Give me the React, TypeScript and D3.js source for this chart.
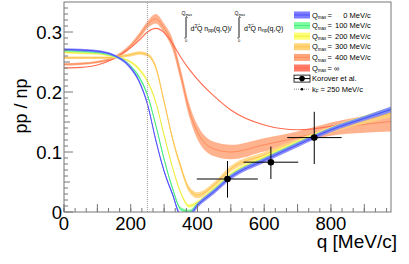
import React from 'react';
import * as d3 from 'd3';

// q grid (MeV/c) shared by all calculated curves
const qGrid = [0, 50, 100, 150, 200, 225, 250, 275, 300, 325, 350, 375, 400, 450, 500, 600, 700, 800, 900, 980];

// pp/np ratio for each Q_max
const ratioQ0 = [0.271, 0.270, 0.268, 0.261, 0.240, 0.218, 0.180, 0.120, 0.068, 0.030, -0.005, -0.005, 0.011, 0.034, 0.058, 0.086, 0.112, 0.137, 0.156, 0.171];
const ratioQ100 = [0.269, 0.268, 0.266, 0.260, 0.243, 0.225, 0.195, 0.145, 0.088, 0.040, 0.005, 0.001, 0.013, 0.036, 0.060, 0.088, 0.114, 0.138, 0.157, 0.171];
const ratioQ200 = [0.266, 0.265, 0.264, 0.259, 0.250, 0.238, 0.218, 0.183, 0.128, 0.075, 0.032, 0.010, 0.016, 0.039, 0.063, 0.091, 0.116, 0.139, 0.157, 0.170];
const ratioQ300 = [0.257, 0.257, 0.257, 0.258, 0.262, 0.265, 0.262, 0.241, 0.184, 0.123, 0.075, 0.038, 0.028, 0.045, 0.072, 0.095, 0.117, 0.137, 0.153, 0.164];
const ratioQ400 = [0.246, 0.247, 0.250, 0.257, 0.277, 0.293, 0.312, 0.322, 0.306, 0.280, 0.228, 0.170, 0.133, 0.105, 0.100, 0.112, 0.124, 0.138, 0.146, 0.151];
const ratioQinf = [0.240, 0.241, 0.245, 0.256, 0.274, 0.286, 0.300, 0.306, 0.299, 0.281, 0.258, 0.238, 0.221, 0.193, 0.170, 0.145, 0.137, 0.143, 0.157, 0.172];

// half widths of the uncertainty bands
const bandQ0 = [0.002, 0.002, 0.002, 0.002, 0.003, 0.003, 0.003, 0.003, 0.003, 0.003, 0.004, 0.004, 0.004, 0.004, 0.004, 0.004, 0.004, 0.004, 0.004, 0.005];
const bandQ100 = [0.002, 0.002, 0.002, 0.002, 0.002, 0.003, 0.003, 0.003, 0.003, 0.003, 0.003, 0.003, 0.003, 0.003, 0.003, 0.003, 0.003, 0.003, 0.003, 0.004];
const bandQ200 = [0.002, 0.002, 0.002, 0.002, 0.002, 0.003, 0.003, 0.003, 0.003, 0.003, 0.003, 0.003, 0.003, 0.003, 0.003, 0.003, 0.003, 0.003, 0.004, 0.004];
const bandQ300 = [0.002, 0.002, 0.002, 0.002, 0.003, 0.003, 0.003, 0.004, 0.004, 0.004, 0.005, 0.005, 0.005, 0.005, 0.005, 0.005, 0.005, 0.005, 0.006, 0.006];
const bandQ400 = [0.002, 0.002, 0.002, 0.003, 0.004, 0.005, 0.006, 0.008, 0.008, 0.009, 0.010, 0.011, 0.012, 0.012, 0.012, 0.011, 0.010, 0.011, 0.014, 0.017];

const qmaxLabels = ['0', '100', '200', '300', '400', '∞'];

// Korover et al. data
const korQ = [490, 620, 750];
const korRatio = [0.055, 0.083, 0.124];
const korQLow = [398, 538, 669];
const korQHigh = [581, 702, 832];
const korRatioLow = [0.024, 0.055, 0.080];
const korRatioHigh = [0.085, 0.109, 0.167];

const kF = 250;

const yTickLabels = ['0', '0.1', '0.2', '0.3'];
const xTickLabels = ['0', '200', '400', '600', '800'];

const W = 409, H = 264;
const margin = { top: 2, right: 18, bottom: 52, left: 64 };
const font = '"Liberation Sans", Arial, Helvetica, sans-serif';

const series = [
  { values: ratioQ400, band: bandQ400, fill: '#ffa57a', line: '#ff8655' },
  { values: ratioQinf, band: null, fill: '#ff7a66', line: '#ff6a4e' },
  { values: ratioQ300, band: bandQ300, fill: '#ffd47a', line: '#ffbf45' },
  { values: ratioQ200, band: bandQ200, fill: '#ffff72', line: '#e8e83c' },
  { values: ratioQ100, band: bandQ100, fill: '#7dffa0', line: '#3ee477' },
  { values: ratioQ0, band: bandQ0, fill: '#7c7cff', line: '#4444ff' },
];
const legendColors = [
  { fill: '#7c7cff', line: '#4444ff' },
  { fill: '#7dffa0', line: '#3ee477' },
  { fill: '#ffff72', line: '#e8e83c' },
  { fill: '#ffd47a', line: '#ffbf45' },
  { fill: '#ffa57a', line: '#ff8655' },
  { fill: '#ff7a66', line: '#ff6a4e' },
];

export default function App() {
  const x = d3.scaleLinear().domain([0, 980]).range([margin.left, W - margin.right]);
  const y = d3.scaleLinear().domain([0, 0.35]).range([H - margin.bottom, margin.top]);
  const x0 = margin.left, x1 = W - margin.right, y0 = H - margin.bottom, y1 = margin.top;

  const line = d3.line<number>()
    .x((_, i) => x(qGrid[i]))
    .y(d => y(d))
    .curve(d3.curveMonotoneX);

  const area = (vals: number[], hw: number[]) => d3.area<number>()
    .x((_, i) => x(qGrid[i]))
    .y0((d, i) => y(d - hw[i]))
    .y1((d, i) => y(d + hw[i]))
    .curve(d3.curveMonotoneX)(vals);

  const xMinor = d3.range(0, 980, 100 / 3);
  const xMajor = d3.range(0, 980, 100);
  const yMinor = d3.range(0, 0.35, 0.01);

  const legRow = (i: number) => 15 + i * 10.6;

  return (
    <svg width={W} height={H} style={{ position: 'absolute', left: 0, top: 0, background: '#fff' }} fontFamily={font}>
      <defs>
        <clipPath id="frame">
          <rect x={x0} y={y1} width={x1 - x0} height={y0 - y1} />
        </clipPath>
      </defs>
      <rect x={0} y={0} width={W} height={H} fill="#fff" />

      <g clipPath="url(#frame)">
        {series.map((s, i) => (
          <g key={i}>
            {s.band && <path d={area(s.values, s.band) || ''} fill={s.fill} fillOpacity={0.85} />}
            <path d={line(s.values) || ''} fill="none" stroke={s.line} strokeWidth={s.band ? 0.9 : 1.1} />
          </g>
        ))}
      </g>

      {/* k_F marker */}
      <line x1={x(kF)} x2={x(kF)} y1={y0} y2={y1} stroke="#999" strokeWidth={1} strokeDasharray="1,1" />

      {/* Korover et al. points */}
      <g stroke="#000" strokeWidth={1}>
        {korQ.map((q, i) => (
          <g key={i}>
            <line x1={x(korQLow[i])} x2={x(korQHigh[i])} y1={y(korRatio[i])} y2={y(korRatio[i])} />
            <line x1={x(q)} x2={x(q)} y1={y(korRatioLow[i])} y2={y(korRatioHigh[i])} />
            <circle cx={x(q)} cy={y(korRatio[i])} r={3.3} fill="#000" stroke="none" />
          </g>
        ))}
      </g>

      {/* frame and ticks */}
      <rect x={x0} y={y1} width={x1 - x0} height={y0 - y1} fill="none" stroke="#777" strokeWidth={1} />
      <g stroke="#777" strokeWidth={1}>
        {xMinor.map((q, i) => (
          <line key={'xm' + i} x1={x(q)} x2={x(q)} y1={y0} y2={y0 - 4} />
        ))}
        {xMajor.map((q, i) => (
          <line key={'xM' + i} x1={x(q)} x2={x(q)} y1={y0} y2={y0 - 8} />
        ))}
        {yMinor.map((v, i) => (
          <line key={'ym' + i} x1={x0} x2={x0 + (i % 10 === 0 ? 9 : i % 5 === 0 ? 6 : 4)} y1={y(v)} y2={y(v)} />
        ))}
      </g>

      {/* tick labels */}
      <g fontSize={18.5} fill="#000">
        {yTickLabels.map(t => (
          <text key={t} x={62} y={y(+t)} dy="0.36em" textAnchor="end">{t}</text>
        ))}
        {xTickLabels.map(t => (
          <text key={t} x={x(+t)} y={230} textAnchor="middle">{t}</text>
        ))}
      </g>

      {/* axis titles */}
      <text x={397} y={248} textAnchor="end" fontSize={19}>q [MeV/c]</text>
      <text transform="translate(27,106) rotate(-90)" textAnchor="middle" fontSize={18}>pp / np</text>

      {/* formula */}
      <g fontSize={7} fill="#000">
        <path d="M187.5,17.5 Q186.8,16 186,17.3 L186,37.5 Q185.3,39 184.5,37.8" fill="none" stroke="#000" strokeWidth={0.9} />
        <text x={181.5} y={15} fontSize={5}>Q<tspan fontSize={3.5} dy={1}>max</tspan></text>
        <text x={185} y={41.5} fontSize={4}>0</text>
        <text x={190.5} y={30.5}>
          d<tspan fontSize={4.5} dy={-3}>3</tspan><tspan dy={3}>Q</tspan> n<tspan fontSize={5} dy={1.8}>pp</tspan><tspan dy={-1.8}>(q,Q)/</tspan>
        </text>
        <text x={196} y={24.5} fontSize={5}>→</text>
        <path d="M240.5,17.5 Q239.8,16 239,17.3 L239,37.5 Q238.3,39 237.5,37.8" fill="none" stroke="#000" strokeWidth={0.9} />
        <text x={234.5} y={15} fontSize={5}>Q<tspan fontSize={3.5} dy={1}>max</tspan></text>
        <text x={238} y={41.5} fontSize={4}>0</text>
        <text x={244} y={30.5}>
          d<tspan fontSize={4.5} dy={-3}>3</tspan><tspan dy={3}>Q</tspan> n<tspan fontSize={5} dy={1.8}>np</tspan><tspan dy={-1.8}>(q,Q)</tspan>
        </text>
        <text x={249.5} y={24.5} fontSize={5}>→</text>
      </g>

      {/* legend */}
      <g fontSize={7.5} fill="#000">
        {qmaxLabels.map((lab, i) => (
          <g key={lab}>
            <rect x={294} y={legRow(i) - 3.5} width={16} height={7} fill={legendColors[i].fill} />
            <line x1={294} x2={310} y1={legRow(i)} y2={legRow(i)} stroke={legendColors[i].line} strokeWidth={0.8} />
            <text x={312} y={legRow(i)} dy="0.35em">Q<tspan fontSize={4.5} dy={1.6}>max</tspan></text>
            <text x={327.5} y={legRow(i)} dy="0.35em">=</text>
            {lab === '∞'
              ? <text x={334} y={legRow(i)} dy="0.35em">∞</text>
              : <>
                  <text x={347.5} y={legRow(i)} dy="0.35em" textAnchor="end">{lab}</text>
                  <text x={349.5} y={legRow(i)} dy="0.35em">MeV/c</text>
                </>}
          </g>
        ))}
        <g>
          <rect x={294} y={legRow(6) - 3.5} width={16} height={7} fill="none" stroke="#000" strokeWidth={0.8} />
          <line x1={294} x2={310} y1={legRow(6)} y2={legRow(6)} stroke="#000" strokeWidth={1} />
          <circle cx={302} cy={legRow(6)} r={2.8} fill="#000" />
          <text x={312} y={legRow(6)} dy="0.35em">Korover et al.</text>
        </g>
        <g>
          <line x1={294} x2={310} y1={legRow(7)} y2={legRow(7)} stroke="#666" strokeWidth={0.8} strokeDasharray="1,1" />
          <circle cx={302} cy={legRow(7)} r={1.3} fill="#000" />
          <text x={312} y={legRow(7)} dy="0.35em">k<tspan fontSize={4.5} dy={1.6}>F</tspan><tspan dy={-1.6}> = 250 MeV/c</tspan></text>
        </g>
      </g>
    </svg>
  );
}
